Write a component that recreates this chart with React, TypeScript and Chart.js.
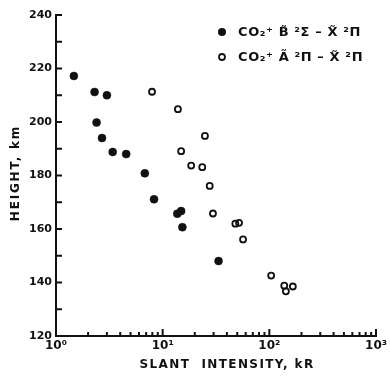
import React, { useEffect, useRef } from "react";
import { Chart, registerables } from "chart.js";

Chart.register(...registerables);

// B̃²Σ – X̃²Π band (filled circles): slant intensity (kR), height (km)
const bIntensity = [1.47, 2.3, 3.0, 2.4, 2.7, 3.4, 4.55, 6.8, 8.3, 13.7, 14.9, 15.3, 33.4];
const bHeight = [217.2, 211.2, 210, 199.8, 194, 188.8, 188, 180.8, 171.1, 165.7, 166.7, 160.7, 148];

// Ã²Π – X̃²Π band (open circles)
const aIntensity = [7.95, 13.9, 24.9, 14.9, 18.5, 23.5, 27.6, 29.6, 48, 52, 56.7, 104, 138, 143, 166];
const aHeight = [211.3, 204.8, 194.8, 189.1, 183.7, 183.1, 176.1, 165.8, 162, 162.3, 156.1, 142.6, 138.8, 136.7, 138.5];

const seriesLabels = ["CO\u2082\u207A B\u0303 \u00B2\u03A3 \u2013 X\u0303 \u00B2\u03A0", "CO\u2082\u207A A\u0303 \u00B2\u03A0 \u2013 X\u0303 \u00B2\u03A0"];
const xTitle = "SLANT  INTENSITY, kR";
const yTitle = "HEIGHT, km";
const decadeLabels: Record<number, string> = { 1: "10\u2070", 10: "10\u00B9", 100: "10\u00B2", 1000: "10\u00B3" };

const INK = "#111";
const FONT = "DejaVu Sans";

export default function App() {
  const ref = useRef<HTMLCanvasElement | null>(null);

  useEffect(() => {
    if (!ref.current) return;
    const decorations = {
      id: "decorations",
      afterDraw(chart: any) {
        const ctx = chart.ctx as any;
        const xs = chart.scales.x;
        const ys = chart.scales.y;
        const area = chart.chartArea;
        ctx.save();
        ctx.strokeStyle = INK;
        ctx.lineWidth = 2;
        // y ticks (inward)
        for (let v = 120; v <= 240; v += 10) {
          const py = ys.getPixelForValue(v);
          ctx.beginPath();
          ctx.moveTo(area.left, py);
          ctx.lineTo(area.left + 6, py);
          ctx.stroke();
        }
        // x ticks (inward)
        for (let d = 1; d <= 1000; d *= 10) {
          for (let m = 1; m <= 9; m++) {
            const v = d * m;
            if (v > 1000) break;
            if (v === 1) continue;
            const px = xs.getPixelForValue(v);
            const len = m === 1 ? 7 : 4;
            ctx.beginPath();
            ctx.moveTo(px, area.bottom);
            ctx.lineTo(px, area.bottom - len);
            ctx.stroke();
          }
        }
        // legend
        const ds = chart.data.datasets;
        const legendY = [32, 57];
        ctx.font = `bold 13px '${FONT}'`;
        ctx.letterSpacing = "0.6px";
        ctx.textBaseline = "middle";
        ctx.textAlign = "left";
        ds.forEach((d: any, i: number) => {
          const cy = legendY[i];
          ctx.beginPath();
          ctx.arc(222, cy, i === 0 ? 4 : 3, 0, Math.PI * 2);
          if (i === 0) {
            ctx.fillStyle = INK;
            ctx.fill();
          } else {
            ctx.lineWidth = 1.8;
            ctx.stroke();
          }
          ctx.fillStyle = INK;
          ctx.fillText(d.label, 238, cy + 1);
        });
        // axis titles
        ctx.font = `bold 12px '${FONT}'`;
        ctx.textAlign = "center";
        ctx.fillStyle = INK;
        ctx.letterSpacing = "1.4px";
        ctx.fillText(xTitle, 227, 365);
        ctx.letterSpacing = "1.8px";
        ctx.translate(16, 173);
        ctx.rotate(-Math.PI / 2);
        ctx.fillText(yTitle, 0, 0);
        ctx.restore();
      },
    };

    const chart = new Chart(ref.current, {
      type: "scatter",
      data: {
        datasets: [
          {
            label: seriesLabels[0],
            data: bIntensity.map((x, i) => ({ x, y: bHeight[i] })),
            pointStyle: "circle",
            pointRadius: 4,
            pointBackgroundColor: INK,
            pointBorderColor: INK,
            pointBorderWidth: 0.5,
          },
          {
            label: seriesLabels[1],
            data: aIntensity.map((x, i) => ({ x, y: aHeight[i] })),
            pointStyle: "circle",
            pointRadius: 3,
            pointBackgroundColor: "rgba(0,0,0,0)",
            pointBorderColor: INK,
            pointBorderWidth: 1.8,
          },
        ],
      },
      options: {
        animation: false,
        responsive: false,
        maintainAspectRatio: false,
        layout: { padding: { top: 15, right: 12, left: 0, bottom: 0 } },
        plugins: { legend: { display: false }, tooltip: { enabled: false } },
        scales: {
          x: {
            type: "logarithmic",
            min: 1,
            max: 1000,
            grid: { display: false, drawTicks: false },
            border: { display: true, color: INK, width: 2 },
            ticks: {
              autoSkip: false,
              maxRotation: 0,
              padding: 3,
              color: INK,
              font: { family: FONT, size: 12, weight: "bold" },
              callback: (v: any) => decadeLabels[Number(v)] ?? "",
            },
            afterFit: (s: any) => {
              s.height = 40;
            },
          },
          y: {
            type: "linear",
            min: 120,
            max: 240,
            grid: { display: false, drawTicks: false },
            border: { display: true, color: INK, width: 2 },
            ticks: {
              stepSize: 10,
              padding: 4,
              color: INK,
              font: { family: FONT, size: 11, weight: "bold" },
              callback: (v: any) => (Number(v) % 20 === 0 ? String(v) : ""),
            },
            afterFit: (s: any) => {
              s.width = 56;
            },
          },
        },
      },
      plugins: [decorations],
    } as any);
    return () => chart.destroy();
  }, []);

  return (
    <div style={{ position: "fixed", left: 0, top: 0, width: 390, height: 376, background: "#fff" }}>
      <canvas ref={ref} width={390} height={376} style={{ width: 390, height: 376 }} />
    </div>
  );
}
